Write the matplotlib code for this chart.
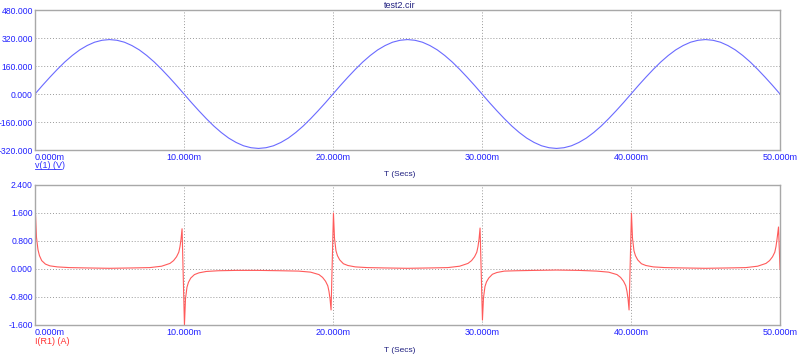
import matplotlib.pyplot as plt
from matplotlib.lines import Line2D

plt.rcParams['font.family'] = ['Liberation Sans', 'DejaVu Sans']

# Tensio v(1): mostres cada 0.5 ms (llegides del grafic)
t_v = [k * 0.5 for k in range(101)]
v1 = [0, 49, 96, 141, 183, 220, 252, 277, 296, 307, 311, 307, 296, 277, 252, 220, 183, 141, 96, 49,
      0, -49, -96, -141, -183, -220, -252, -277, -296, -307, -311, -307, -296, -277, -252, -220, -183, -141, -96, -49,
      0, 49, 96, 141, 183, 220, 252, 277, 296, 307, 311, 307, 296, 277, 252, 220, 183, 141, 96, 49,
      0, -49, -96, -141, -183, -220, -252, -277, -296, -307, -311, -307, -296, -277, -252, -220, -183, -141, -96, -49,
      0, 49, 96, 141, 183, 220, 252, 277, 296, 307, 311, 307, 296, 277, 252, 220, 183, 141, 96, 49,
      0]

# Corrent I(R1): temps en ms i valors en A
t_i = [0, 0.03, 0.1, 0.2, 0.3, 0.45, 0.7, 1.0, 1.5, 2.3, 3.5, 5.0, 6.5, 7.7, 8.5, 9.06, 9.3, 9.5, 9.65, 9.73, 9.8, 9.87,
       10.03, 10.1, 10.2, 10.3, 10.45, 10.7, 11.0, 11.5, 12.3, 13.5, 15.0, 16.5, 17.7, 18.5, 19.06, 19.3, 19.5, 19.65, 19.73, 19.8, 19.87,
       20.03, 20.1, 20.2, 20.3, 20.45, 20.7, 21.0, 21.5, 22.3, 23.5, 25.0, 26.5, 27.7, 28.5, 29.06, 29.3, 29.5, 29.65, 29.73, 29.8, 29.87,
       30.03, 30.1, 30.2, 30.3, 30.45, 30.7, 31.0, 31.5, 32.3, 33.5, 35.0, 36.5, 37.7, 38.5, 39.06, 39.3, 39.5, 39.65, 39.73, 39.8, 39.87,
       40.03, 40.1, 40.2, 40.3, 40.45, 40.7, 41.0, 41.5, 42.3, 43.5, 45.0, 46.5, 47.7, 48.5, 49.06, 49.3, 49.5, 49.65, 49.73, 49.8, 49.9, 49.95, 50.0]
i_r1 = [0, 1.60, 0.90, 0.55, 0.38, 0.24, 0.14, 0.09, 0.06, 0.04, 0.03, 0.02, 0.03, 0.04, 0.08, 0.16, 0.24, 0.35, 0.48, 0.64, 0.85, 1.15,
        -1.60, -0.85, -0.52, -0.38, -0.26, -0.16, -0.11, -0.07, -0.05, -0.04, -0.04, -0.05, -0.06, -0.09, -0.16, -0.24, -0.35, -0.48, -0.64, -0.85, -1.17,
        1.60, 0.88, 0.52, 0.38, 0.26, 0.15, 0.10, 0.06, 0.04, 0.03, 0.02, 0.03, 0.04, 0.08, 0.16, 0.24, 0.35, 0.48, 0.64, 0.85, 1.17,
        -1.46, -0.82, -0.50, -0.37, -0.26, -0.15, -0.10, -0.06, -0.05, -0.04, -0.03, -0.04, -0.06, -0.09, -0.16, -0.24, -0.35, -0.48, -0.64, -0.85, -1.17,
        1.60, 0.88, 0.52, 0.38, 0.26, 0.15, 0.10, 0.06, 0.04, 0.03, 0.02, 0.03, 0.04, 0.08, 0.16, 0.24, 0.35, 0.48, 0.64, 0.85, 1.20, 0.60, 0]

x_ticks = [0, 10, 20, 30, 40, 50]
x_labels = ['0.000m', '10.000m', '20.000m', '30.000m', '40.000m', '50.000m']
v_ticks = [-320, -160, 0, 160, 320, 480]
i_ticks = [-1.6, -0.8, 0.0, 0.8, 1.6, 2.4]

W, H = 800, 357
fig = plt.figure(figsize=(W / 100, H / 100), dpi=100)
fig.patch.set_facecolor('white')


def px_box(left, top, right, bottom):
    return [left / W, 1 - bottom / H, (right - left) / W, (bottom - top) / H]


ax1 = fig.add_axes(px_box(35, 10, 780, 150))
ax2 = fig.add_axes(px_box(35, 185, 780, 325))

ax1.plot(t_v, v1, color='#6a6aff', lw=0.8)
ax2.plot(t_i, i_r1, color='#ff5a5a', lw=0.8)

for ax, yt in [(ax1, v_ticks), (ax2, i_ticks)]:
    ax.set_xlim(0, 50)
    ax.set_ylim(yt[0], yt[-1])
    ax.set_xticks(x_ticks)
    ax.set_xticklabels(x_labels)
    ax.get_xticklabels()[0].set_ha('left')
    ax.set_yticks(yt)
    ax.set_yticklabels(['%.3f' % v for v in yt])
    ax.tick_params(axis='x', length=0, labelsize=6.5, labelcolor='#2020ff', pad=2)
    ax.tick_params(axis='y', length=0, labelsize=6.2, labelcolor='#2020ff', pad=1.5)
    ax.grid(True, color='#9a9a9a', linestyle=(0, (1, 2)), lw=0.7)
    for s in ax.spines.values():
        s.set_color('#a8a8a8')
        s.set_linewidth(1.0)

fig.text(400 / W, 1 - 6 / H, 'test2.cir', ha='center', va='center', fontsize=6.5, color='#202080')
fig.text(400 / W, 1 - 175 / H, 'T (Secs)', ha='center', va='center', fontsize=6, color='#202080')
fig.text(400 / W, 1 - 351 / H, 'T (Secs)', ha='center', va='center', fontsize=6, color='#202080')
fig.text(35 / W, 1 - 165 / H, 'v(1) (V)', ha='left', va='center', fontsize=6.5, color='#3030ff')
fig.add_artist(Line2D([35 / W, 61 / W], [1 - 168.5 / H, 1 - 168.5 / H], color='#3030ff', lw=0.6))
fig.text(35 / W, 1 - 342 / H, 'I(R1) (A)', ha='left', va='center', fontsize=6.5, color='#ff3030')

fig.savefig('out.png', dpi=100, facecolor='white')
